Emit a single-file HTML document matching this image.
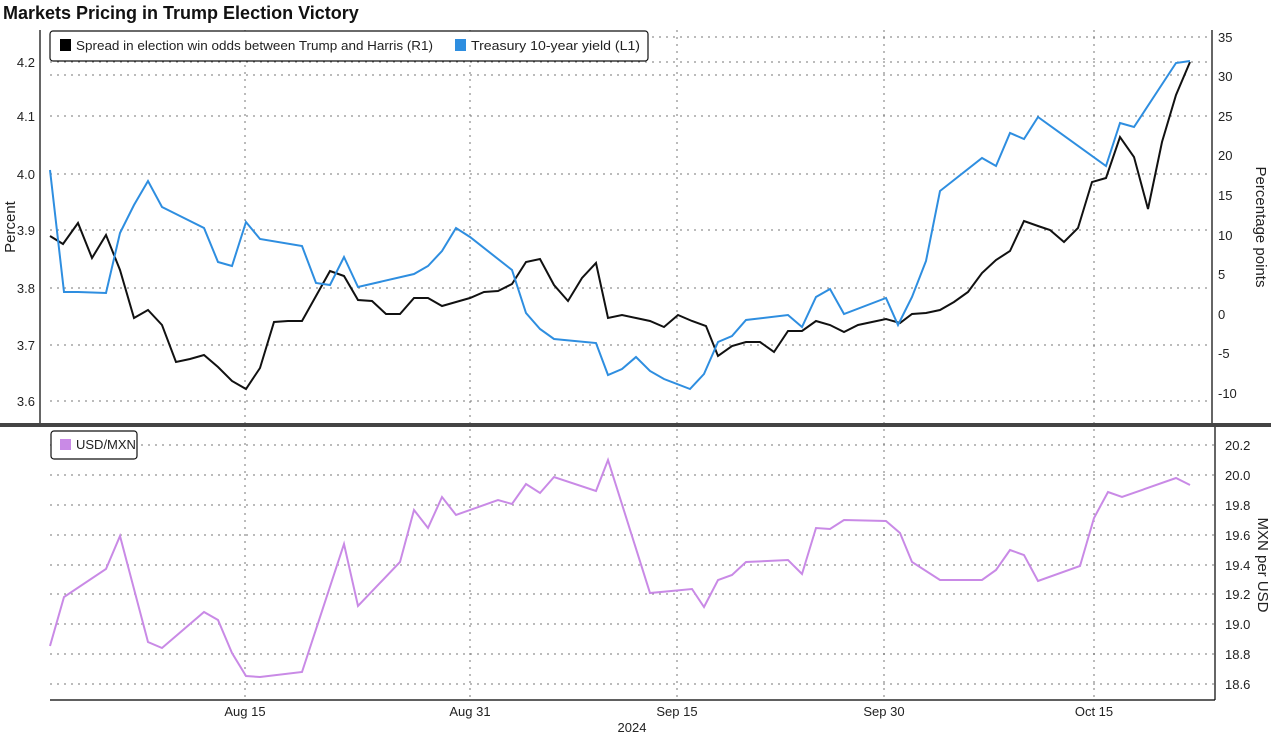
<!DOCTYPE html>
<html><head><meta charset="utf-8"><style>
body{margin:0;background:#fff;}
svg{display:block;font-family:"Liberation Sans",sans-serif;}
</style></head><body>
<svg width="1271" height="737" viewBox="0 0 1271 737" xmlns="http://www.w3.org/2000/svg">
<rect width="1271" height="737" fill="#fff"/>
<text x="3" y="19" font-size="18" font-weight="bold" fill="#111">Markets Pricing in Trump Election Victory</text>
<g stroke="#777" stroke-width="1" stroke-dasharray="2,5">
<line x1="50" x2="1212" y1="62" y2="62"/><line x1="50" x2="1212" y1="75" y2="75"/>
<line x1="50" x2="1212" y1="116" y2="116"/><line x1="50" x2="1212" y1="174" y2="174"/>
<line x1="50" x2="1212" y1="230" y2="230"/><line x1="50" x2="1212" y1="288" y2="288"/>
<line x1="50" x2="1212" y1="345" y2="345"/><line x1="50" x2="1212" y1="401" y2="401"/>
<line x1="50" x2="1212" y1="37" y2="37"/>
<line x1="245" x2="245" y1="30" y2="700"/><line x1="470" x2="470" y1="30" y2="700"/>
<line x1="677" x2="677" y1="30" y2="700"/><line x1="884" x2="884" y1="30" y2="700"/>
<line x1="1094" x2="1094" y1="30" y2="700"/>
<line x1="50" x2="1215" y1="445" y2="445"/><line x1="50" x2="1215" y1="475" y2="475"/>
<line x1="50" x2="1215" y1="505" y2="505"/><line x1="50" x2="1215" y1="535" y2="535"/>
<line x1="50" x2="1215" y1="565" y2="565"/><line x1="50" x2="1215" y1="594" y2="594"/>
<line x1="50" x2="1215" y1="624" y2="624"/><line x1="50" x2="1215" y1="654" y2="654"/>
<line x1="50" x2="1215" y1="684" y2="684"/>
</g>
<g stroke="#000" stroke-width="1.2" fill="none">
<line x1="40" x2="40" y1="30" y2="424"/>
<line x1="1212" x2="1212" y1="30" y2="424"/>
<line x1="1215" x2="1215" y1="427" y2="700"/>
<line x1="50" x2="1215" y1="700" y2="700"/>
</g>
<rect x="0" y="423" width="1271" height="4" fill="#444"/>
<g font-size="13" fill="#222">
<text x="35" y="67" text-anchor="end">4.2</text><text x="35" y="121" text-anchor="end">4.1</text>
<text x="35" y="179" text-anchor="end">4.0</text><text x="35" y="235" text-anchor="end">3.9</text>
<text x="35" y="293" text-anchor="end">3.8</text><text x="35" y="350" text-anchor="end">3.7</text>
<text x="35" y="406" text-anchor="end">3.6</text>
<text x="1218" y="42">35</text><text x="1218" y="81">30</text><text x="1218" y="121">25</text>
<text x="1218" y="160">20</text><text x="1218" y="200">15</text><text x="1218" y="240">10</text>
<text x="1218" y="279">5</text><text x="1218" y="319">0</text><text x="1218" y="358">-5</text>
<text x="1218" y="398">-10</text>
<text x="1225" y="450">20.2</text><text x="1225" y="480">20.0</text><text x="1225" y="510">19.8</text>
<text x="1225" y="540">19.6</text><text x="1225" y="570">19.4</text><text x="1225" y="599">19.2</text>
<text x="1225" y="629">19.0</text><text x="1225" y="659">18.8</text><text x="1225" y="689">18.6</text>
<text x="245" y="716" text-anchor="middle">Aug 15</text><text x="470" y="716" text-anchor="middle">Aug 31</text>
<text x="677" y="716" text-anchor="middle">Sep 15</text><text x="884" y="716" text-anchor="middle">Sep 30</text>
<text x="1094" y="716" text-anchor="middle">Oct 15</text>
<text x="632" y="732" text-anchor="middle">2024</text>
</g>
<text transform="translate(15,227) rotate(-90)" font-size="15" fill="#222" text-anchor="middle">Percent</text>
<text transform="translate(1256,227) rotate(90)" font-size="15" fill="#222" text-anchor="middle">Percentage points</text>
<text transform="translate(1258,565) rotate(90)" font-size="15" fill="#222" text-anchor="middle">MXN per USD</text>
<polyline fill="none" stroke="#111" stroke-width="2" points="50,236 63,244 78,223 92,258 106,235 120,270 134,318 148,310 162,325 176,362 190,359 204,355 218,367 232,381 246,389 260,368 274,322 288,321 302,321 316,296 330,271 344,276 358,300 372,301 386,314 400,314 414,298 428,298 442,306 456,302 470,298 484,292 498,291 512,284 526,262 540,259 554,285 568,301 582,278 596,263 608,318 622,315 636,318 650,321 664,327 678,315 692,321 706,326 718,356 732,346 746,342 760,342 774,352 788,331 802,331 816,321 830,325 844,332 858,325 872,322 886,319 900,323 912,314 926,313 940,310 954,302 968,292 982,273 996,260 1010,251 1024,221 1038,226 1050,230 1064,242 1078,228 1092,182 1106,178 1120,137 1134,157 1148,209 1162,142 1176,95 1190,62"/>
<polyline fill="none" stroke="#2e8ee0" stroke-width="2" points="50,170 64,292 78,292 106,293 120,233 134,205 148,181 162,207 176,214 204,228 218,262 232,266 246,222 260,239 302,246 316,283 330,285 344,257 358,287 414,274 428,266 442,251 456,228 470,237 512,270 526,313 540,329 554,339 596,343 608,375 622,369 636,357 650,371 664,379 690,389 704,374 718,342 732,336 746,320 788,315 802,327 816,297 830,289 844,314 886,298 898,325 912,297 926,261 940,191 982,158 996,166 1010,133 1024,139 1038,117 1106,166 1120,123 1134,127 1176,63 1190,61"/>
<polyline fill="none" stroke="#c98ae6" stroke-width="2" points="50,646 64,597 106,569 120,536 148,642 162,648 204,612 218,620 232,653 246,676 260,677 302,672 344,544 358,606 400,562 414,510 428,528 442,497 456,515 498,500 512,504 526,484 540,493 554,477 596,491 608,460 650,593 692,589 704,607 718,580 732,575 746,562 788,560 802,574 816,528 830,529 844,520 886,521 900,533 912,562 940,580 982,580 996,570 1010,550 1024,555 1038,581 1080,566 1094,518 1108,492 1122,497 1176,478 1190,485"/>
<rect x="50" y="31" width="598" height="30" rx="3" fill="#fff" stroke="#111" stroke-width="1.2"/>
<rect x="60" y="39" width="11" height="12" fill="#000"/>
<text x="76" y="50" font-size="13" fill="#222" textLength="357" lengthAdjust="spacingAndGlyphs">Spread in election win odds between Trump and Harris (R1)</text>
<rect x="455" y="39" width="11" height="12" fill="#2e8ee0"/>
<text x="471" y="50" font-size="13" fill="#222" textLength="169" lengthAdjust="spacingAndGlyphs">Treasury 10-year yield (L1)</text>
<rect x="51" y="431" width="86" height="28" rx="3" fill="#fff" stroke="#111" stroke-width="1.2"/>
<rect x="60" y="439" width="11" height="11" fill="#c98ae6"/>
<text x="76" y="449" font-size="13" fill="#222">USD/MXN</text>
</svg>
</body></html>
